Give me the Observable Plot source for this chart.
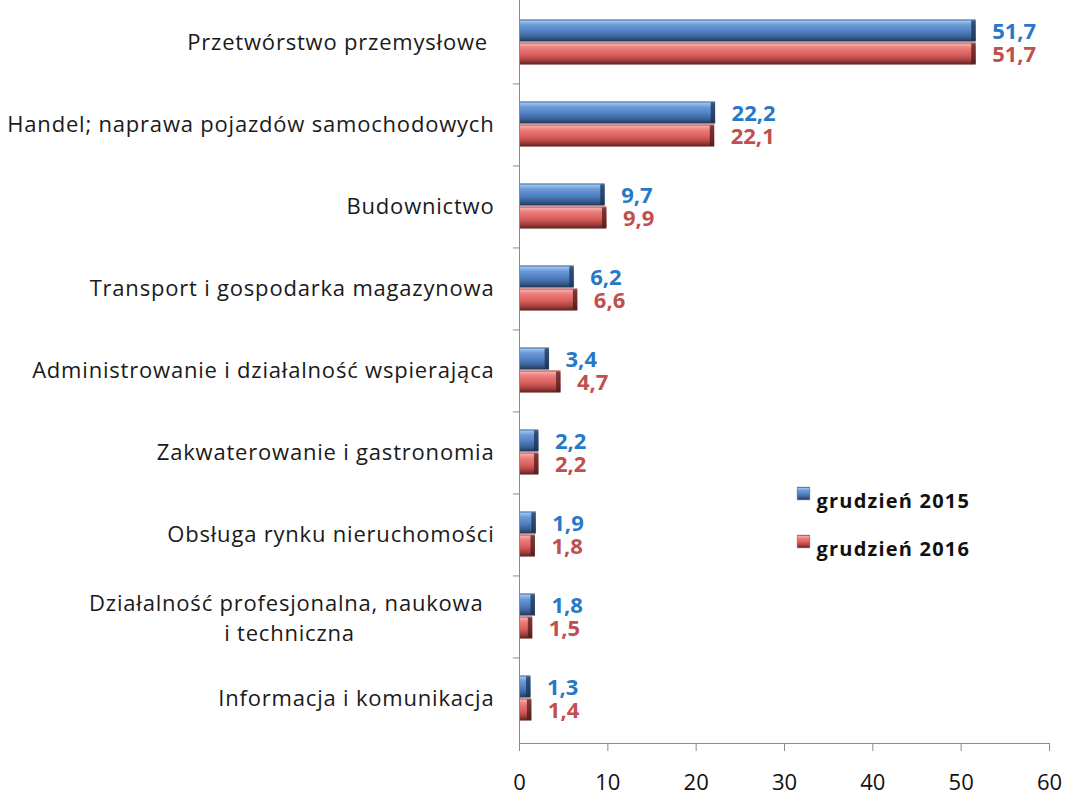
<!DOCTYPE html>
<html><head><meta charset="utf-8">
<script src="https://cdn.jsdelivr.net/npm/d3@7"></script>
<script src="https://cdn.jsdelivr.net/npm/@observablehq/plot@0.6"></script>
<style>body{margin:0;background:#fff;font-family:"Open Sans",sans-serif;}</style>
</head><body><div id="chart"></div>
<script>
const categories = [
  "Przetwórstwo przemysłowe\u00a0",
  "Handel; naprawa pojazdów samochodowych",
  "Budownictwo",
  "Transport i gospodarka magazynowa",
  "Administrowanie i działalność wspierająca",
  "Zakwaterowanie i gastronomia",
  "Obsługa rynku nieruchomości",
  "Działalność profesjonalna, naukowa\u00a0\ni techniczna",
  "Informacja i komunikacja"
];
const series = ["grudzień 2015", "grudzień 2016"];
const values2015 = [51.7, 22.2, 9.7, 6.2, 3.4, 2.2, 1.9, 1.8, 1.3];
const values2016 = [51.7, 22.1, 9.9, 6.6, 4.7, 2.2, 1.8, 1.5, 1.4];
const xTicks = [0, 10, 20, 30, 40, 50, 60];

const data = categories.map((c, i) => ({category: c, a: values2015[i], b: values2016[i]}));
const twoLine = categories[7];
const fmt = v => v.toFixed(1).replace(".", ",");

const W = 1065, H = 794, mTop = -3, mBottom = 51, mLeft = 519, mRight = 16;
const band = (H - mBottom - mTop) / categories.length;
const half = band / 2;
const barH = 23;

const blue = "url(#gBlue)", red = "url(#gRed)";
const blueText = "#2878c8", redText = "#c0504d";
const font = "'Open Sans', sans-serif";

const plot = Plot.plot({
  width: W, height: H,
  marginTop: mTop, marginBottom: mBottom, marginLeft: mLeft, marginRight: mRight,
  x: {domain: [0, 60], label: null},
  y: {domain: categories, padding: 0, label: null},
  style: {fontFamily: font, background: "#fff"},
  marks: [
    Plot.barX(data, {y: "category", x: "a", fill: blue, insetTop: half - barH, insetBottom: half}),
    Plot.barX(data, {y: "category", x1: d => Math.max(0, d.a - 0.5), x2: "a", fill: "#1c3050", fillOpacity: 0.75, insetTop: half - barH + 1, insetBottom: half + 1}),
    Plot.barX(data, {y: "category", x: "b", fill: red, insetTop: half, insetBottom: half - barH}),
    Plot.barX(data, {y: "category", x1: d => Math.max(0, d.b - 0.5), x2: "b", fill: "#4e1a1a", fillOpacity: 0.75, insetTop: half + 1, insetBottom: half - barH + 1}),
    Plot.text(data, {y: "category", x: "a", text: d => fmt(d.a), dx: 16, dy: -barH / 2 + 1, textAnchor: "start", fill: blueText, fontSize: 22, fontWeight: "bold"}),
    Plot.text(data, {y: "category", x: "b", text: d => fmt(d.b), dx: 16, dy: barH / 2 + 1, textAnchor: "start", fill: redText, fontSize: 22, fontWeight: "bold"}),
    Plot.frame({anchor: "left", stroke: "#8c8c8c"}),
    Plot.frame({anchor: "bottom", stroke: "#8c8c8c"}),
    Plot.ruleY(categories.slice(0, -1), {y: d => d, dy: half, x1: -0.7, x2: 0, stroke: "#8c8c8c"}),
    Plot.axisX({ticks: xTicks, tickSize: 8, tickPadding: 23, fontSize: 22, stroke: "#8c8c8c", fill: "#111", label: null}),
    Plot.axisY({tickSize: 0, tickPadding: 25, fontSize: 22, fill: "#1a1a1a", label: null, tickFormat: d => d === twoLine ? "" : d}),
    Plot.text([twoLine], {y: d => d, frameAnchor: "left", dx: -230, textAnchor: "middle", lineHeight: 1.36, fontSize: 22, fill: "#1a1a1a"}),
    Plot.dot([series[0]], {frameAnchor: "top-left", dx: 284, dy: 496, symbol: "square", r: 7, fill: blue, stroke: "#2a4670", strokeWidth: 0.5}),
    Plot.dot([series[1]], {frameAnchor: "top-left", dx: 284, dy: 544, symbol: "square", r: 7, fill: red, stroke: "#7a2d2c", strokeWidth: 0.5}),
    Plot.text([series[0]], {frameAnchor: "top-left", dx: 297, dy: 496, text: d => d, textAnchor: "start", fontSize: 20, fontWeight: "bold", fill: "#111"}),
    Plot.text([series[1]], {frameAnchor: "top-left", dx: 297, dy: 544, text: d => d, textAnchor: "start", fontSize: 20, fontWeight: "bold", fill: "#111"})
  ]
});

const defs = `<defs>
<linearGradient id="gBlue" x1="0" y1="0" x2="0" y2="1">
<stop offset="0" stop-color="#355f95"/><stop offset="0.08" stop-color="#9cc2ee"/>
<stop offset="0.25" stop-color="#6c9ad8"/><stop offset="0.55" stop-color="#4f80c2"/>
<stop offset="0.8" stop-color="#3a5f92"/><stop offset="0.92" stop-color="#2a4670"/>
<stop offset="1" stop-color="#1e3352"/></linearGradient>
<linearGradient id="gRed" x1="0" y1="0" x2="0" y2="1">
<stop offset="0" stop-color="#a9403e"/><stop offset="0.08" stop-color="#f7aaa8"/>
<stop offset="0.25" stop-color="#ec7d7a"/><stop offset="0.55" stop-color="#d9605d"/>
<stop offset="0.8" stop-color="#a8413f"/><stop offset="0.92" stop-color="#7a2d2c"/>
<stop offset="1" stop-color="#5a1f1f"/></linearGradient></defs>`;
plot.insertAdjacentHTML("afterbegin", defs);

const catText = new Set(categories.flatMap(c => c.split("\n")));
d3.select(plot).selectAll("text").each(function() {
  const t = this.textContent;
  if (catText.has(t) || t.startsWith("Działalność")) d3.select(this).attr("letter-spacing", "0.8");
  if (series.includes(t)) d3.select(this).attr("letter-spacing", "1.2");
});
document.getElementById("chart").appendChild(plot);
</script>
</body></html>
